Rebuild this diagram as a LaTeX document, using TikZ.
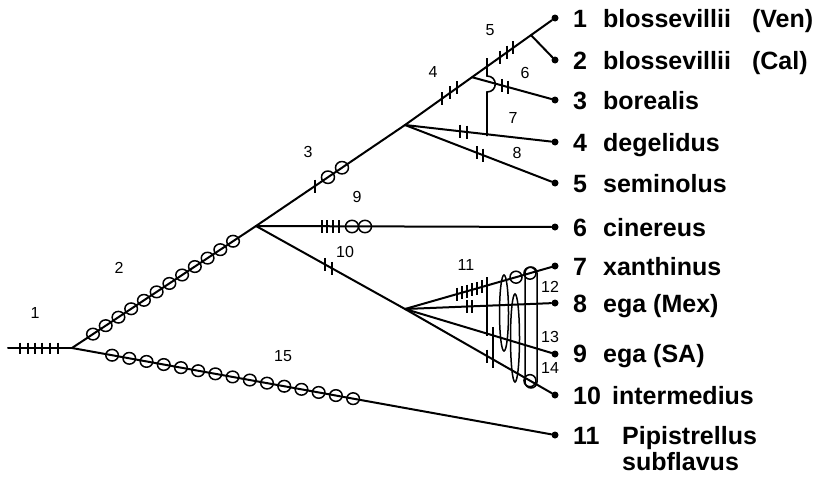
\documentclass[tikz,border=0pt]{standalone}
\usepackage{fontspec}
\setmainfont{Liberation Sans}
\usetikzlibrary{calc}
\begin{document}
\begin{tikzpicture}[x=1pt,y=-1pt,
  branch/.style={line width=2pt, line cap=round},
  tickmark/.style={line width=1.6pt},
  ring/.style={line width=1.5pt},
  tipdot/.style={circle, fill=black, inner sep=0pt, minimum size=7pt},
  tiplab/.style={anchor=base west, inner sep=0pt, font=\fontsize{25}{27}\selectfont\bfseries},
  brlab/.style={inner sep=0pt, font=\fontsize{16}{18}\selectfont}]
\useasboundingbox (0,0) rectangle (818,479);
% junctions
\coordinate (L0) at (8,348);
\coordinate (R) at (72,348);
\coordinate (A) at (256,226);
\coordinate (B) at (405,125);
\coordinate (C) at (405,309);
% tips
\node[tipdot] (t1) at (555,18) {};
\node[tipdot] (t2) at (555,60) {};
\node[tipdot] (t3) at (555,100) {};
\node[tipdot] (t4) at (555,142) {};
\node[tipdot] (t5) at (555,183) {};
\node[tipdot] (t6) at (555,227) {};
\node[tipdot] (t7) at (555,266) {};
\node[tipdot] (t8) at (555,303) {};
\node[tipdot] (t9) at (555,354) {};
\node[tipdot] (t10) at (555,395) {};
\node[tipdot] (t11) at (555,435) {};
\coordinate (E) at ($(B)!0.4467!(t1)$);
\coordinate (D) at ($(B)!0.84!(t1)$);
% branches
\draw[branch] (L0) -- (R);
\draw[branch] (R) -- (A);
\draw[branch] (R) -- (t11);
\draw[branch] (A) -- (B);
\draw[branch] (A) -- (t6);
\draw[branch] (A) -- (C);
\draw[branch] (B) -- (t1);
\draw[branch] (D) -- (t2);
\draw[branch] (E) -- (t3);
\draw[branch] (B) -- (t4);
\draw[branch] (B) -- (t5);
\draw[branch] (C) -- (t7);
\draw[branch] (C) -- (t8);
\draw[branch] (C) -- (t9);
\draw[branch] (C) -- (t10);
% root ticks
\foreach \x in {20,28,35,42,50,58} \draw[tickmark] (\x,342.5) -- (\x,353.5);
% branch 2 rings
\foreach \i in {0,...,11} \draw[ring] ($(R)!{0.114+\i*0.0692}!(A)$) ellipse [x radius=6.3pt, y radius=5.8pt];
% branch 15 rings
\foreach \i in {0,...,14} \draw[ring] ($(R)!{0.083+\i*0.03564}!(t11)$) ellipse [x radius=6.3pt, y radius=5.8pt];
% branch 3
\draw[tickmark] ($(A)!0.396!(B)$) +(0,-6.5) -- +(0,6.5);
\foreach \f in {0.483,0.577} \draw[ring] ($(A)!\f!(B)$) ellipse [x radius=6.5pt, y radius=6.2pt];
% branch 9
\foreach \x in {322,327,333,339} \draw[tickmark] (\x,220) -- (\x,233);
\foreach \x in {352,365} \draw[ring] (\x,226.5) ellipse [x radius=6.5pt, y radius=6.2pt];
% branch 10
\foreach \f in {0.463,0.51} \draw[tickmark] ($(A)!\f!(C)$) +(0,-6.5) -- +(0,6.5);
% branch 4
\foreach \f in {0.552,0.672,0.776} \draw[tickmark] ($(B)!\f!(E)$) +(0,-6.5) -- +(0,6.5);
% branch 5
\foreach \f in {0.475,0.593,0.695} \draw[tickmark] ($(E)!\f!(D)$) +(0,-6.5) -- +(0,6.5);
% branch 6
\foreach \f in {0.361,0.434} \draw[tickmark] ($(E)!\f!(t3)$) +(0,-6.5) -- +(0,6.5);
% branch 7
\foreach \f in {0.367,0.413} \draw[tickmark] ($(B)!\f!(t4)$) +(0,-6.5) -- +(0,6.5);
% branch 8
\foreach \f in {0.48,0.52} \draw[tickmark] ($(B)!\f!(t5)$) +(0,-6.5) -- +(0,6.5);
% parallelism line 5-7 with hop
\draw[tickmark] (487,58) -- (487,76) .. controls (498,76) and (498,92) .. (487,92) -- (487,136);
% cluster 11
\foreach \f in {0.347,0.38,0.413,0.447,0.48,0.513} \draw[tickmark] ($(C)!\f!(t7)$) +(0,-6.5) -- +(0,6.5);
\foreach \f in {0.413,0.447} \draw[tickmark] ($(C)!\f!(t8)$) +(0,-6.5) -- +(0,6.5);
\draw[tickmark] (487,277) -- (487,336);
\draw[tickmark] (493,327) -- (493,368);
\draw[tickmark] ($(C)!0.547!(t10)$) +(0,-6.5) -- +(0,6.5);
\draw[ring] (504,313) ellipse [x radius=4.5pt, y radius=38pt];
\draw[ring] (515,338) ellipse [x radius=4.5pt, y radius=44pt];
\draw[ring] ($(C)!0.74!(t7)$) circle [radius=6pt];
\draw[ring] ($(C)!0.833!(t7)$) circle [radius=6pt];
\draw[ring] ($(C)!0.833!(t10)$) circle [radius=6pt];
\draw[ring, rounded corners=6pt] (525,267) rectangle (537,388);
% branch labels
\node[brlab] (b1) at (35,313) {1};
\node[brlab] (b2) at (119,268) {2};
\node[brlab] (b3) at (308,152) {3};
\node[brlab] (b4) at (433,72) {4};
\node[brlab] (b5) at (490,30) {5};
\node[brlab] (b6) at (525,73) {6};
\node[brlab] (b7) at (513,118) {7};
\node[brlab] (b8) at (517,153) {8};
\node[brlab] (b9) at (357,197) {9};
\node[brlab] (b10) at (345,252) {10};
\node[brlab] (b11) at (466,265) {11};
\node[brlab] (b12) at (550,287) {12};
\node[brlab] (b13) at (550,337) {13};
\node[brlab] (b14) at (550,368) {14};
\node[brlab] (b15) at (283,356) {15};
% tip labels
\node[tiplab] (n1) at (573,27) {\makebox[30pt][l]{1}blossevillii\hspace{21pt}(Ven)};
\node[tiplab] (n2) at (573,69) {\makebox[30pt][l]{2}blossevillii\hspace{21pt}(Cal)};
\node[tiplab] (n3) at (573,109) {\makebox[30pt][l]{3}borealis};
\node[tiplab] (n4) at (573,151) {\makebox[30pt][l]{4}degelidus};
\node[tiplab] (n5) at (573,192) {\makebox[30pt][l]{5}seminolus};
\node[tiplab] (n6) at (573,236) {\makebox[30pt][l]{6}cinereus};
\node[tiplab] (n7) at (573,275) {\makebox[30pt][l]{7}xanthinus};
\node[tiplab] (n8) at (573,312) {\makebox[30pt][l]{8}ega (Mex)};
\node[tiplab] (n9) at (573,362) {\makebox[30pt][l]{9}ega (SA)};
\node[tiplab] (n10) at (573,404) {\makebox[39pt][l]{10}intermedius};
\node[tiplab] (n11) at (573,444) {\makebox[49pt][l]{11}Pipistrellus};
\node[tiplab] (n11b) at (622,470) {subflavus};
\end{tikzpicture}
\end{document}
